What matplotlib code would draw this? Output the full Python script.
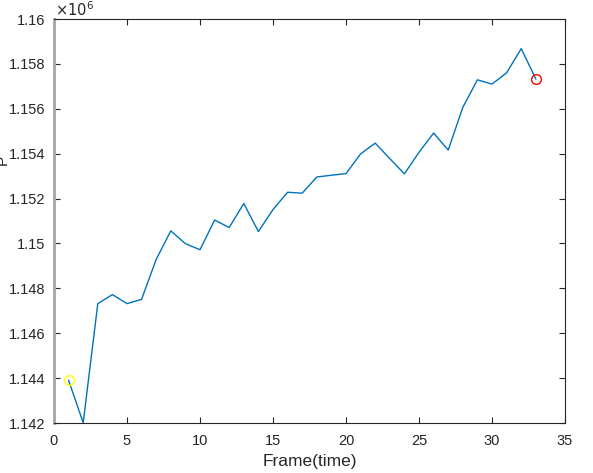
import matplotlib
matplotlib.use("Agg")
import matplotlib.pyplot as plt
from matplotlib.ticker import FixedLocator, FixedFormatter

plt.rcParams['font.family'] = ['Liberation Sans', 'DejaVu Sans']

frames = list(range(1, 34))
values = [1.14390e6, 1.14201e6, 1.14732e6, 1.14772e6, 1.14732e6, 1.14751e6,
          1.14929e6, 1.15056e6, 1.14999e6, 1.14972e6, 1.15104e6, 1.15071e6,
          1.15178e6, 1.15053e6, 1.15151e6, 1.15228e6, 1.15224e6, 1.15296e6,
          1.15304e6, 1.15311e6, 1.15399e6, 1.15447e6, 1.15378e6, 1.15310e6,
          1.15406e6, 1.15492e6, 1.15416e6, 1.15606e6, 1.15729e6, 1.15710e6,
          1.15760e6, 1.15868e6, 1.15733e6]
xticks = [0, 5, 10, 15, 20, 25, 30, 35]
yticks = [1.142e6, 1.144e6, 1.146e6, 1.148e6, 1.150e6, 1.152e6, 1.154e6,
          1.156e6, 1.158e6, 1.160e6]
yticklabels = ['1.142', '1.144', '1.146', '1.148', '1.15', '1.152', '1.154',
               '1.156', '1.158', '1.16']

fig = plt.figure(figsize=(5.93, 4.73), dpi=100)
ax = fig.add_axes([54/593, 50/473, 511/593, 404/473])

ax.plot(frames, values, color='#0072BD', lw=1.0)
ax.plot(frames[0], values[0], 'o', mfc='none', mec='#FFFF00', ms=7, mew=1.0)
ax.plot(frames[-1], values[-1], 'o', mfc='none', mec='#FF0000', ms=7, mew=1.0)

ax.set_xlim(0, 35)
ax.set_ylim(1.142e6, 1.160e6)
ax.set_xticks(xticks)
ax.yaxis.set_major_locator(FixedLocator(yticks))
ax.yaxis.set_major_formatter(FixedFormatter(yticklabels))

for s in ax.spines.values():
    s.set_color('#262626')
    s.set_linewidth(0.8)
ax.spines['left'].set_color('#A6A6A6')
ax.spines['left'].set_linewidth(2.0)

ax.tick_params(direction='in', length=4, width=0.8, colors='#262626',
               labelsize=10.5, top=True, right=True)
ax.tick_params(axis='x', pad=8)
ax.tick_params(axis='y', pad=6)
for lab in ax.get_xticklabels() + ax.get_yticklabels():
    lab.set_color('#262626')

ax.set_xlabel('Frame(time)', fontsize=12.5, color='#262626', labelpad=4)

fig.text(55/593, 1 - 10/473, r'$\times10^{6}$', fontsize=10.5, color='#262626',
         va='center', ha='left')
fig.text(-4/593, 1 - 160/473, 'P', fontsize=11, color='#262626',
         rotation=90, va='center', ha='left')

fig.savefig('out.png', dpi=100)
